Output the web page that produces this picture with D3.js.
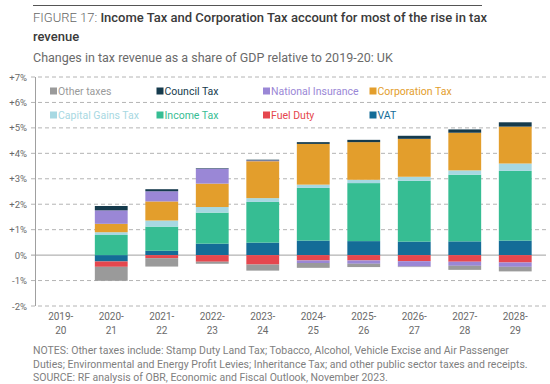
<!DOCTYPE html>
<html>
<head>
<meta charset="utf-8">
<script src="https://cdn.jsdelivr.net/npm/d3@7"></script>
<style>
  body { margin: 0; background: #fff; }
  svg { display: block; font-family: Roboto, sans-serif; }
</style>
</head>
<body>
<div class="canvas"></div>
<script>
'use strict';

// values, % of GDP relative to 2019-20
const years = ['2019-20', '2020-21', '2021-22', '2022-23', '2023-24', '2024-25', '2025-26', '2026-27', '2027-28', '2028-29'];
const vat = [0, -0.25, 0.17, 0.45, 0.49, 0.57, 0.55, 0.53, 0.54, 0.57];
const fuelDuty = [0, -0.21, -0.12, -0.26, -0.37, -0.21, -0.21, -0.24, -0.26, -0.29];
const incomeTax = [0, 0.79, 0.95, 1.22, 1.6, 2.07, 2.28, 2.39, 2.62, 2.74];
const capitalGainsTax = [0, 0.11, 0.24, 0.22, 0.15, 0.13, 0.13, 0.16, 0.17, 0.29];
const corporationTax = [0, 0.33, 0.75, 0.92, 1.45, 1.6, 1.48, 1.49, 1.48, 1.45];
const nationalInsurance = [0, 0.53, 0.4, 0.59, 0.03, -0.1, -0.13, -0.21, -0.16, -0.17];
const councilTax = [0, 0.17, 0.08, 0.02, 0.03, 0.07, 0.09, 0.12, 0.13, 0.17];
const otherTaxes = [0, -0.55, -0.33, -0.08, -0.24, -0.19, -0.13, -0.02, -0.16, -0.18];

const yTicks = [-2, -1, 0, 1, 2, 3, 4, 5, 6, 7];

// stacking order (bottom up for positives, top down for negatives)
const series = [
  { key: 'VAT', values: vat, color: '#146c97' },
  { key: 'Fuel Duty', values: fuelDuty, color: '#e5474e' },
  { key: 'Income Tax', values: incomeTax, color: '#36bd93' },
  { key: 'Capital Gains Tax', values: capitalGainsTax, color: '#a7d8e2' },
  { key: 'Corporation Tax', values: corporationTax, color: '#e39e2c' },
  { key: 'National Insurance', values: nationalInsurance, color: '#9a87d6' },
  { key: 'Council Tax', values: councilTax, color: '#163b4d' },
  { key: 'Other taxes', values: otherTaxes, color: '#9a9a9a' },
];

const legendOrder = ['Other taxes', 'Council Tax', 'National Insurance', 'Corporation Tax',
  'Capital Gains Tax', 'Income Tax', 'Fuel Duty', 'VAT'];

const notes = [
  'NOTES: Other taxes include: Stamp Duty Land Tax; Tobacco, Alcohol, Vehicle Excise and Air Passenger',
  'Duties; Environmental and Energy Profit Levies; Inheritance Tax; and other public sector taxes and receipts.',
  'SOURCE: RF analysis of OBR, Economic and Fiscal Outlook, November 2023.',
];

const width = 550;
const height = 384;

const svg = d3
  .select('.canvas')
  .append('svg')
  .attr('width', width)
  .attr('height', height);

const colorOf = d3.scaleOrdinal()
  .domain(series.map(s => s.key))
  .range(series.map(s => s.color));

const table = years.map((year, i) => {
  const row = { year };
  series.forEach(s => { row[s.key] = s.values[i]; });
  return row;
});

const stacked = d3.stack()
  .keys(series.map(s => s.key))
  .offset(d3.stackOffsetDiverging)(table);

const x = d3.scaleBand()
  .domain(years)
  .range([35.5, 540.5])
  .paddingInner(0.35)
  .paddingOuter(0.175);

const y = d3.scaleLinear().domain([-2, 7]).range([306, 77]);

// header
svg.append('line')
  .attr('x1', 33).attr('x2', 482)
  .attr('y1', 5.5).attr('y2', 5.5)
  .attr('stroke', '#555').attr('stroke-width', 1);

const title = svg.append('text')
  .attr('x', 33).attr('y', 22)
  .style('font-size', '13px');
title.append('tspan').attr('fill', '#666').attr('font-weight', 300).text('FIGURE 17: ');
title.append('tspan').attr('fill', '#3a3a3a').attr('font-weight', 500)
  .text('Income Tax and Corporation Tax account for most of the rise in tax');
svg.append('text')
  .attr('x', 33).attr('y', 41)
  .attr('fill', '#3a3a3a').attr('font-weight', 500)
  .style('font-size', '13px')
  .text('revenue');

svg.append('text')
  .attr('x', 33).attr('y', 62)
  .attr('fill', '#6a6a6a')
  .style('font-size', '12.5px')
  .text('Changes in tax revenue as a share of GDP relative to 2019-20: UK');

// grid
const grid = svg.append('g');
grid.selectAll('line')
  .data(yTicks.filter(d => d !== 0))
  .enter()
  .append('line')
  .attr('x1', 31).attr('x2', 546)
  .attr('y1', d => y(d)).attr('y2', d => y(d))
  .attr('stroke', '#b4b4b4')
  .attr('stroke-dasharray', '4,3');

svg.append('line')
  .attr('x1', 31).attr('x2', 546)
  .attr('y1', y(0)).attr('y2', y(0))
  .attr('stroke', '#a0a0a0');

// bars
const layers = svg.append('g')
  .selectAll('g')
  .data(stacked)
  .enter()
  .append('g')
  .attr('fill', d => colorOf(d.key));

layers.selectAll('rect')
  .data(d => d)
  .enter()
  .append('rect')
  .attr('x', d => x(d.data.year))
  .attr('width', x.bandwidth())
  .attr('y', d => y(Math.max(d[0], d[1])))
  .attr('height', d => Math.abs(y(d[0]) - y(d[1])));

// y axis
const yAxis = d3.axisLeft(y)
  .tickValues(yTicks)
  .tickSize(0)
  .tickPadding(8)
  .tickFormat(d => (d > 0 ? `+${d}%` : `${d}%`));

const yAxisGroup = svg.append('g')
  .attr('transform', 'translate(35,0)')
  .call(yAxis);
yAxisGroup.select('.domain').remove();
yAxisGroup.selectAll('text')
  .attr('fill', '#6a6a6a')
  .style('font-size', '9.5px')
  .style('font-family', 'Roboto, sans-serif');

svg.append('line')
  .attr('x1', 35.5).attr('x2', 35.5)
  .attr('y1', y(7)).attr('y2', y(-2))
  .attr('stroke', '#a0a0a0');

// x labels, two lines each
const xLabels = svg.append('g')
  .selectAll('text')
  .data(years)
  .enter()
  .append('text')
  .attr('text-anchor', 'middle')
  .attr('fill', '#6a6a6a')
  .style('font-size', '10px');

xLabels.append('tspan')
  .attr('x', d => x(d) + x.bandwidth() / 2)
  .attr('y', 320)
  .text(d => d.split('-')[0] + '-');
xLabels.append('tspan')
  .attr('x', d => x(d) + x.bandwidth() / 2)
  .attr('y', 334)
  .text(d => d.split('-')[1]);

// legend
const legend = svg.append('g')
  .selectAll('g')
  .data(legendOrder)
  .enter()
  .append('g')
  .attr('transform', (d, i) => `translate(${50 + (i % 4) * 106.5},${i < 4 ? 91 : 115})`);

legend.append('rect')
  .attr('x', 0).attr('y', -3.5)
  .attr('width', 7).attr('height', 7)
  .attr('fill', d => colorOf(d));

legend.append('text')
  .attr('x', 8)
  .attr('dy', '0.35em')
  .attr('fill', d => colorOf(d))
  .style('font-size', '10.5px')
  .text(d => d);

// notes
svg.append('g')
  .selectAll('text')
  .data(notes)
  .enter()
  .append('text')
  .attr('x', 33)
  .attr('y', (d, i) => 354 + i * 13.5)
  .attr('fill', '#808080')
  .style('font-size', '10.5px')
  .text(d => d);
</script>
</body>
</html>
